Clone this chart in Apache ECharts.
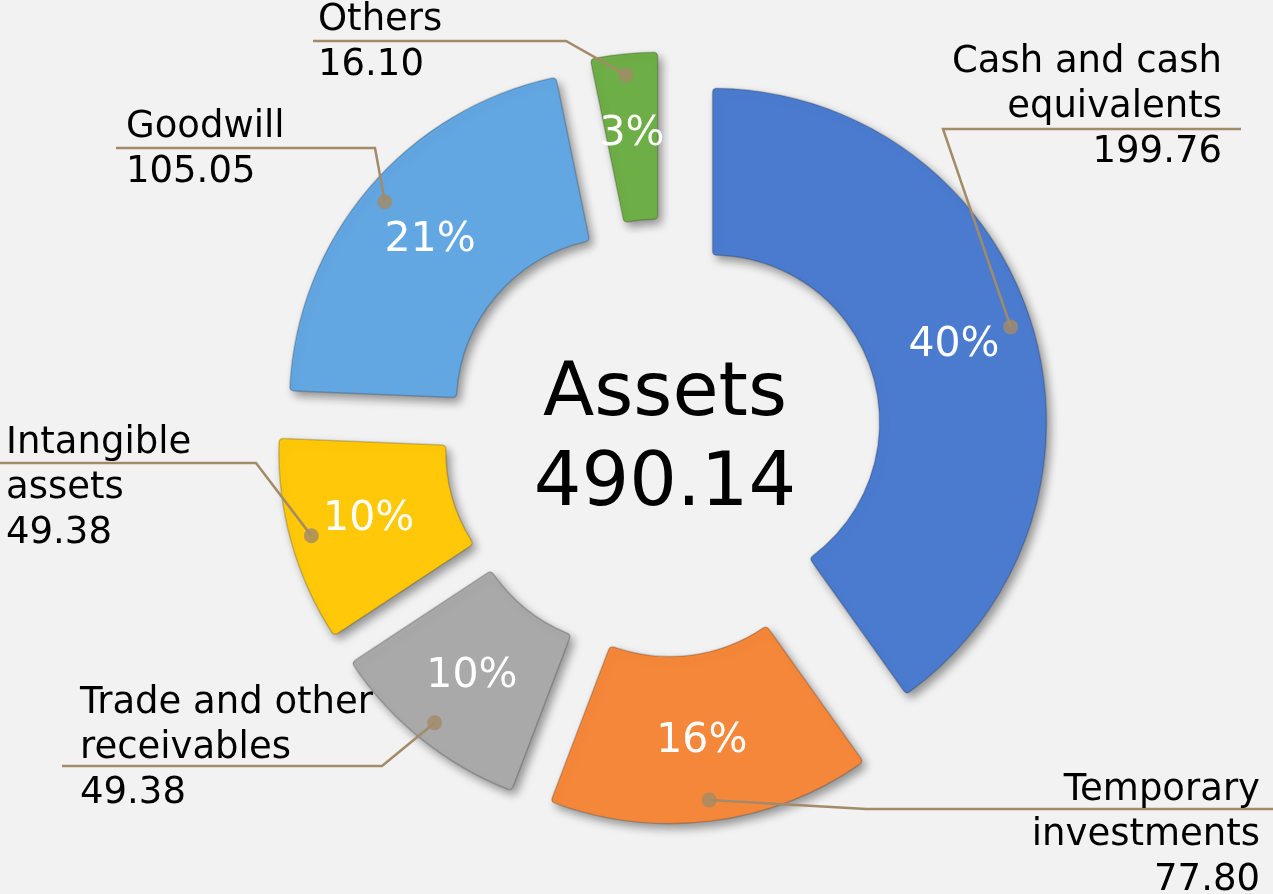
<!DOCTYPE html>
<html><head><meta charset="utf-8">
<script src="https://cdn.jsdelivr.net/npm/echarts@6/dist/echarts.min.js"></script>
<style>html,body{margin:0;padding:0;background:#f2f2f2;} #chart{width:1273px;height:894px;}</style>
</head><body><div id="chart"></div>
<script>
// ---- data ----
const categories = ['Cash and cash equivalents', 'Temporary investments', 'Trade and other receivables', 'Intangible assets', 'Goodwill', 'Others'];
const labelTexts = ['Cash and cash\nequivalents', 'Temporary\ninvestments', 'Trade and other\nreceivables', 'Intangible\nassets', 'Goodwill', 'Others'];
const values = [199.76, 77.80, 49.38, 49.38, 105.05, 16.10];
const colors = ['#4A7BCF', '#F5873A', '#A9A9A9', '#FFC808', '#62A6E2', '#6EAE46'];
const centerTitle = 'Assets';
const centerTotal = '490.14';

// ---- label layout (text placement only) ----
const labelPlacement = [
  {x: 1222, y: 107, align: 'right', lineY: 129, bendX: 943, endX: 1241},
  {x: 1260, y: 835, align: 'right', lineY: 809, bendX: 866, endX: 1273},
  {x: 80,   y: 748, align: 'left',  lineY: 766, bendX: 382, endX: 62},
  {x: 6,    y: 488, align: 'left',  lineY: 463, bendX: 256, endX: 0},
  {x: 126,  y: 150, align: 'left',  lineY: 148, bendX: 375, endX: 116},
  {x: 318,  y: 43,  align: 'left',  lineY: 41,  bendX: 566, endX: 313}
];

const CENTER = [663, 438];
const FONT = 'DejaVu Sans';
const LINE_COLOR = '#A38B68';
const total = values.reduce((a, b) => a + b, 0);
const mids = [];
let acc = 0;
values.forEach(v => { mids.push(acc + v / 2); acc += v; });

const chart = echarts.init(document.getElementById('chart'), null, {renderer: 'canvas'});
chart.setOption({
  backgroundColor: '#f2f2f2',
  animation: false,
  polar: {center: CENTER, radius: 365},
  angleAxis: {type: 'value', min: 0, max: total, startAngle: 90, clockwise: true, show: false},
  radiusAxis: {type: 'value', min: 0, max: 1, show: false},
  graphic: [{
    type: 'text', x: 665, y: 441, silent: true,
    style: {text: centerTitle + '\n' + centerTotal, fontSize: 75, lineHeight: 90, fontFamily: FONT,
      fill: '#000', align: 'center', verticalAlign: 'middle'}
  }],
  series: [
    {
      type: 'pie', center: CENTER, radius: [167, 334], startAngle: 90, clockwise: true, z: 2,
      selectedMode: 'multiple', selectedOffset: 52, percentPrecision: 0,
      emphasis: {disabled: true},
      itemStyle: {borderRadius: 4, borderWidth: 1.5, borderColor: 'rgba(0,0,0,0.18)',
        shadowBlur: 10, shadowOffsetX: 4, shadowOffsetY: 5, shadowColor: 'rgba(0,0,0,0.4)'},
      label: {show: true, position: 'inner', formatter: '{d}%', color: '#fff', fontSize: 41, fontFamily: FONT},
      labelLine: {show: false},
      data: categories.map((c, i) => ({name: c, value: values[i], selected: true, itemStyle: {color: colors[i]}}))
    },
    {
      type: 'pie', center: CENTER, radius: [166, 365], startAngle: 90, clockwise: true, z: 4,
      silent: true, avoidLabelOverlap: false, emphasis: {disabled: true},
      itemStyle: {color: 'rgba(0,0,0,0)'},
      label: {show: true, position: 'outside', color: '#000', fontSize: 37, lineHeight: 45,
        fontFamily: FONT, overflow: 'none',
        formatter: p => labelTexts[p.dataIndex] + '\n' + values[p.dataIndex].toFixed(2)},
      labelLine: {show: true, length: 10, length2: 10, lineStyle: {color: LINE_COLOR, width: 2.5}},
      labelLayout: function (p) {
        const L = labelPlacement[p.dataIndex];
        const p0 = (p.labelLinePoints && p.labelLinePoints[0]) || [L.bendX, L.lineY];
        return {x: L.x, y: L.y, align: L.align, verticalAlign: 'middle',
          labelLinePoints: [p0, [L.bendX, L.lineY], [L.endX, L.lineY]]};
      },
      data: categories.map((c, i) => ({name: c, value: values[i]}))
    },
    {
      type: 'scatter', coordinateSystem: 'polar', silent: true, symbolSize: 15,
      itemStyle: {color: LINE_COLOR}, z: 6,
      data: mids.map(m => [1, m])
    }
  ]
});
</script></body></html>
